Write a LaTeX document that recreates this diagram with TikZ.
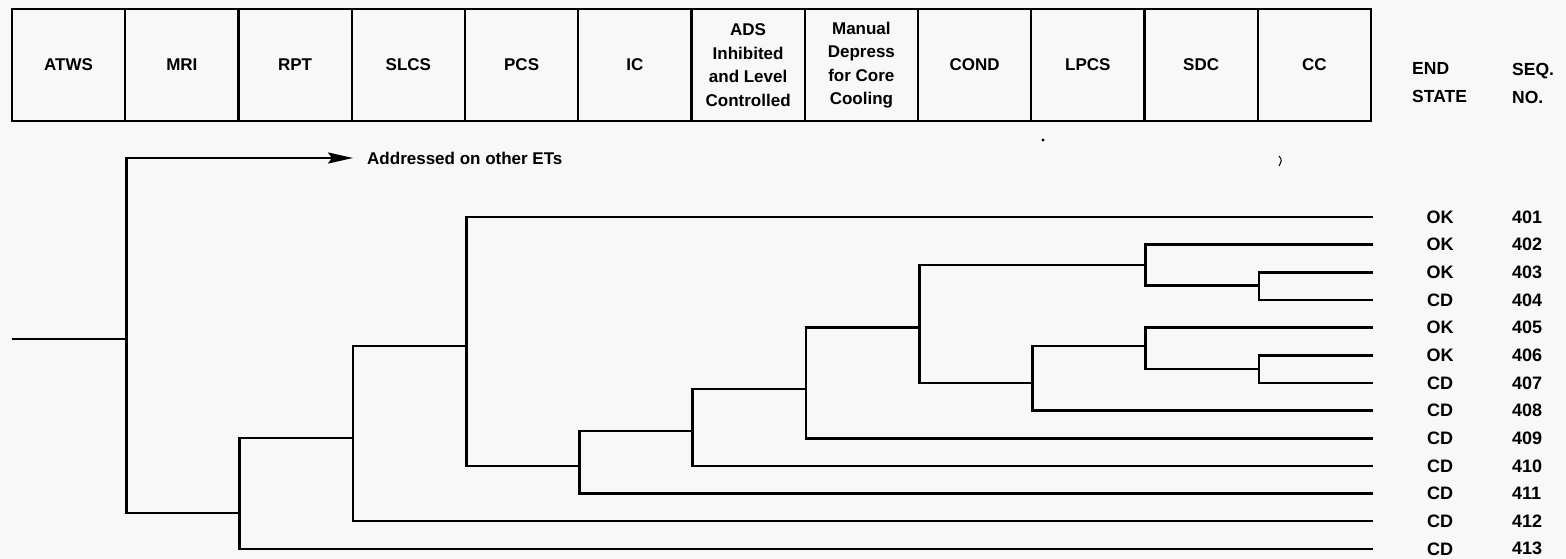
\documentclass[tikz,border=0pt]{standalone}
\usepackage{fontspec}
\setmainfont{Liberation Sans}
\usetikzlibrary{arrows.meta}
\definecolor{bg}{RGB}{248,248,248}
\begin{document}
\begin{tikzpicture}[x=1pt,y=-1pt,
  hbox/.style={draw, line width=2.4pt, minimum width=113.25pt, minimum height=112pt,
    inner sep=0pt, align=center, font=\fontsize{17}{23.5}\selectfont\bfseries},
  br/.style={line width=2.6pt},
  lab/.style={inner sep=0pt, font=\fontsize{18}{28}\selectfont\bfseries},
  hlab/.style={inner sep=0pt, align=left, anchor=west, font=\fontsize{17.5}{28}\selectfont\bfseries},
]
\fill[bg] (0,0) rectangle (1566,559);
\useasboundingbox (0,0) rectangle (1566,559);

% header boxes
\node[hbox] (hATWS) at (68.625,65) {ATWS};
\node[hbox] (hMRI)  at (181.875,65) {MRI};
\node[hbox] (hRPT)  at (295.125,65) {RPT};
\node[hbox] (hSLCS) at (408.375,65) {SLCS};
\node[hbox] (hPCS)  at (521.625,65) {PCS};
\node[hbox] (hIC)   at (634.875,65) {IC};
\node[hbox] (hADS)  at (748.125,65) {ADS\\Inhibited\\and Level\\Controlled};
\node[hbox] (hMAN)  at (861.375,65) {Manual\\Depress\\for Core\\Cooling};
\node[hbox] (hCOND) at (974.625,65) {COND};
\node[hbox] (hLPCS) at (1087.875,65) {LPCS};
\node[hbox] (hSDC)  at (1201.125,65) {SDC};
\node[hbox] (hCC)   at (1314.375,65) {CC};
\node[hlab] (hES) at (1412,83) {END\\STATE};
\node[hlab] (hSQ) at (1512,83) {SEQ.\\NO.};

% end points of the sequences and their labels
\foreach \k/\s [count=\i from 0] in {401/OK,402/OK,403/OK,404/CD,405/OK,406/OK,407/CD,
    408/CD,409/CD,410/CD,411/CD,412/CD,413/CD} {
  \coordinate (e\k) at (1373,217+27.65*\i);
  \node[lab] (s\k) at (1440,217+27.65*\i) {\s};
  \node[lab,anchor=west] (q\k) at (1512,217+27.65*\i) {\k};
}

% branch points
\coordinate (ie) at (12,339);
\coordinate (n1) at (hATWS.east |- 0,339);
\coordinate (n2) at (hMRI.east |- 0,513);
\coordinate (n3) at (hRPT.east |- 0,438);
\coordinate (n4) at (hSLCS.east |- 0,346);
\coordinate (n5) at (hPCS.east |- e410);
\coordinate (n6) at (hIC.east |- 0,431);
\coordinate (n7) at (hADS.east |- 0,389);
\coordinate (n8) at (hMAN.east |- e405);
\coordinate (m1) at (hLPCS.east |- 0,265);
\coordinate (m2) at (hCOND.east |- e407);
\coordinate (m3) at (hSDC.east |- 0,285.5);
\coordinate (m4) at (hLPCS.east |- 0,346);
\coordinate (m5) at (hSDC.east |- 0,369);

\node[inner sep=0pt, anchor=west, font=\fontsize{17}{20}\selectfont\bfseries] (addr) at (367,158) {Addressed on other ETs};

% tree
\draw[br] (ie) -- (n1);
\draw[br, -{Stealth[length=25pt,width=11pt,inset=4pt]}, shorten >=14pt] (n1) |- (addr.west);
\draw[br] (n1) |- (n2);
\draw[br] (n2) |- (n3);  \draw[br] (n2) |- (e413);
\draw[br] (n3) |- (n4);  \draw[br] (n3) |- (e412);
\draw[br] (n4) |- (e401); \draw[br] (n4) |- (n5);
\draw[br] (n5) |- (n6);  \draw[br] (n5) |- (e411);
\draw[br] (n6) |- (n7);  \draw[br] (n6) |- (e410);
\draw[br] (n7) |- (n8);  \draw[br] (n7) |- (e409);
\draw[br] (n8) |- (m1);  \draw[br] (n8) |- (m2);
\draw[br] (m1) |- (e402); \draw[br] (m1) |- (m3);
\draw[br] (m3) |- (e403); \draw[br] (m3) |- (e404);
\draw[br] (m2) |- (m4);  \draw[br] (m2) |- (e408);
\draw[br] (m4) |- (e405); \draw[br] (m4) |- (m5);
\draw[br] (m5) |- (e406); \draw[br] (m5) |- (e407);

% small marks of the scan
\fill (1043,140) circle (1.6pt);
\draw[line width=1pt] (1279,156) .. controls (1282,160) .. (1279,166);
\end{tikzpicture}
\end{document}
